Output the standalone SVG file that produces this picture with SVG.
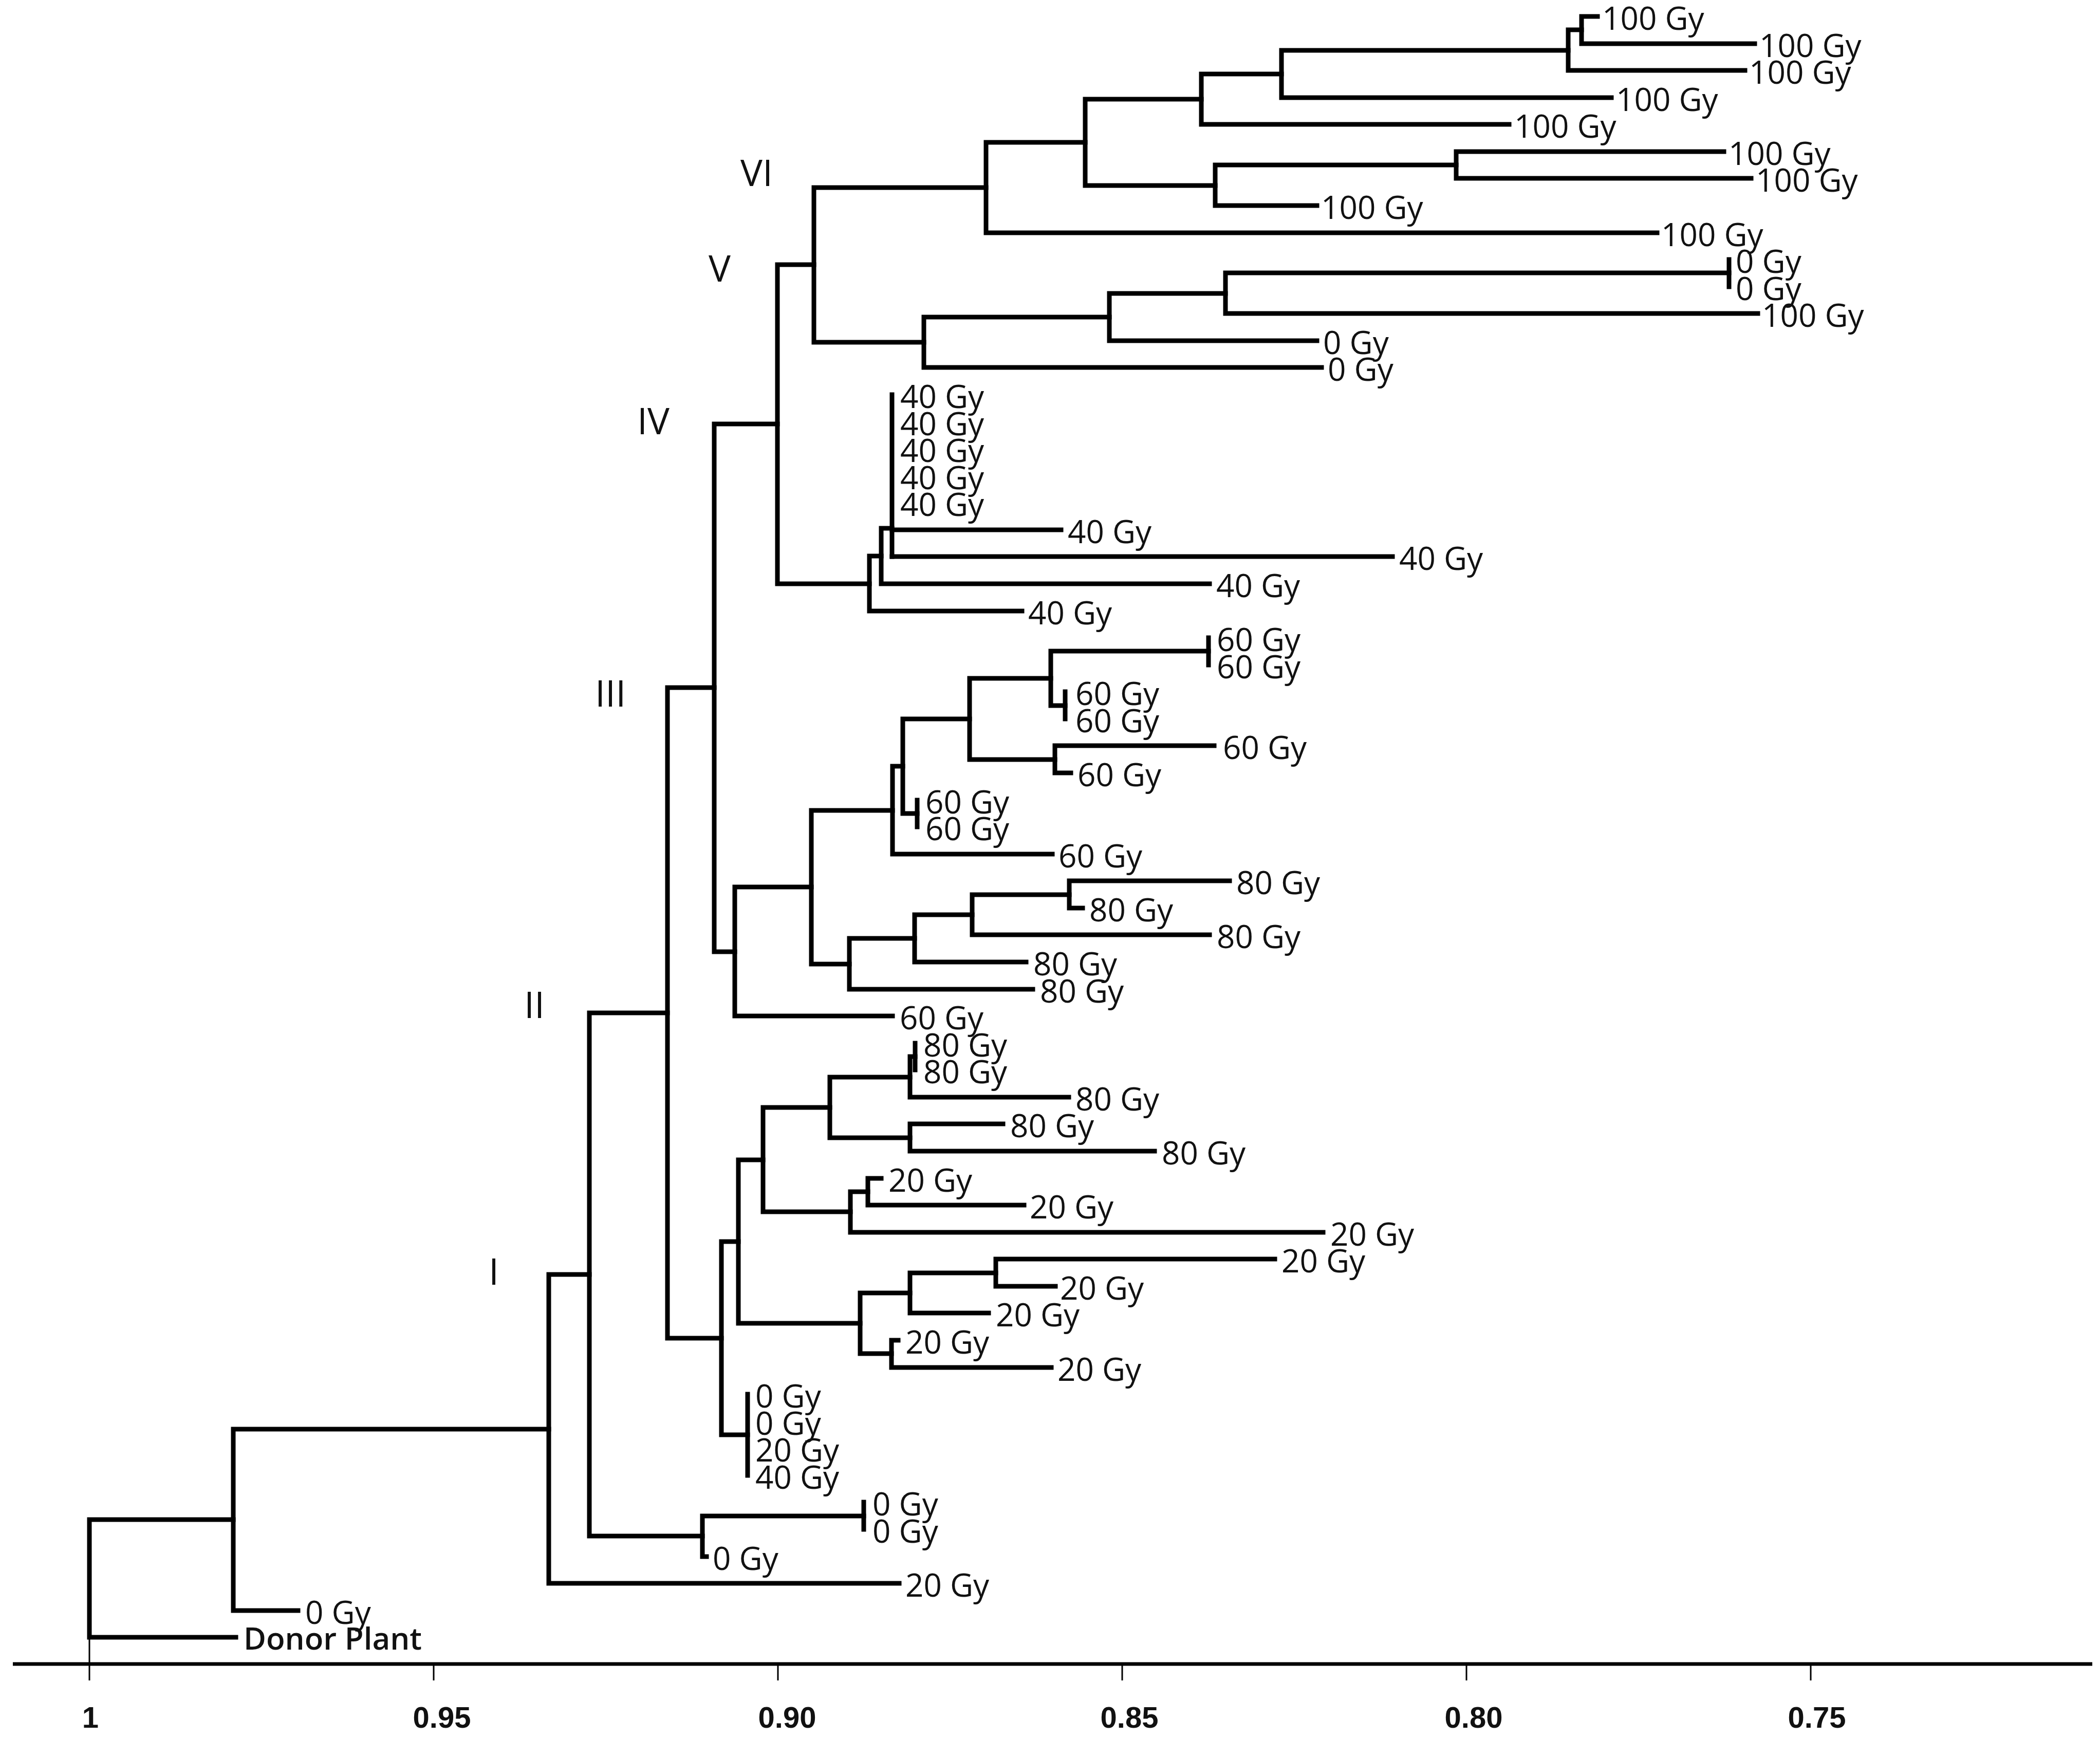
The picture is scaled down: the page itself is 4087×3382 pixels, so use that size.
<svg xmlns="http://www.w3.org/2000/svg" width="4087" height="3382" viewBox="0 0 4087 3382">
<style>
.br{fill:none;stroke:#000;stroke-width:9;stroke-linecap:square;stroke-linejoin:miter}
.lb{font-family:"Open Sans","DejaVu Sans",sans-serif;font-size:62px;fill:#111}
.dp{font-family:"Open Sans","DejaVu Sans",sans-serif;font-size:60px;font-weight:600;fill:#111}
.rn{font-family:"Open Sans","DejaVu Sans",sans-serif;font-size:72px;font-weight:400;fill:#111}
.ax{fill:none;stroke:#000;stroke-width:7}
.tk{fill:none;stroke:#000;stroke-width:3}
.tl{font-family:"Liberation Sans",Arial,sans-serif;font-size:58px;font-weight:bold;fill:#111;text-anchor:middle}
</style>
<rect width="4087" height="3382" fill="#fff"/>
<g id="connectors">
<path class="br" d="M3109 32 H3078 V85 H3415"/>
<path class="br" d="M3078 58 H3052 V137 H3396"/>
<path class="br" d="M3052 98 H2494 V190 H3136"/>
<path class="br" d="M2494 144 H2338 V242 H2937"/>
<path class="br" d="M3355 295 H2834 V347 H3408"/>
<path class="br" d="M2834 321 H2365 V400 H2563"/>
<path class="br" d="M2338 193 H2112 V361 H2365"/>
<path class="br" d="M2112 277 H1919 V453 H3225"/>
<path class="br" d="M3365 505 V558"/>
<path class="br" d="M3365 531 H2385 V610 H3421"/>
<path class="br" d="M2385 571 H2159 V663 H2563"/>
<path class="br" d="M2159 617 H1798 V715 H2572"/>
<path class="br" d="M1919 365 H1584 V666 H1798"/>
<path class="br" d="M1736 768 V1083"/>
<path class="br" d="M1736 1031 H2065"/>
<path class="br" d="M1736 1083 H2710"/>
<path class="br" d="M1736 1028 H1715 V1136 H2354"/>
<path class="br" d="M1715 1082 H1692 V1189 H1989"/>
<path class="br" d="M1584 515 H1513 V1136 H1692"/>
<path class="br" d="M2352 1241 V1294"/>
<path class="br" d="M2073 1346 V1399"/>
<path class="br" d="M2352 1267 H2045 V1373 H2073"/>
<path class="br" d="M2363 1451 H2053 V1504 H2084"/>
<path class="br" d="M2045 1320 H1887 V1478 H2053"/>
<path class="br" d="M1785 1557 V1609"/>
<path class="br" d="M1887 1399 H1757 V1583 H1785"/>
<path class="br" d="M1757 1491 H1737 V1662 H2048"/>
<path class="br" d="M2393 1714 H2081 V1767 H2107"/>
<path class="br" d="M2081 1741 H1892 V1819 H2354"/>
<path class="br" d="M1892 1780 H1780 V1872 H1997"/>
<path class="br" d="M1780 1826 H1653 V1925 H2010"/>
<path class="br" d="M1737 1577 H1579 V1876 H1653"/>
<path class="br" d="M1579 1726 H1430 V1977 H1737"/>
<path class="br" d="M1513 825 H1390 V1852 H1430"/>
<path class="br" d="M1781 2030 V2082"/>
<path class="br" d="M1781 2056 H1771 V2135 H2080"/>
<path class="br" d="M1952 2187 H1771 V2240 H2247"/>
<path class="br" d="M1771 2096 H1615 V2214 H1771"/>
<path class="br" d="M1715 2293 H1689 V2345 H1993"/>
<path class="br" d="M1689 2319 H1655 V2398 H2575"/>
<path class="br" d="M1615 2155 H1485 V2358 H1655"/>
<path class="br" d="M2481 2450 H1938 V2503 H2054"/>
<path class="br" d="M1938 2477 H1771 V2555 H1924"/>
<path class="br" d="M1748 2608 H1735 V2661 H2046"/>
<path class="br" d="M1771 2516 H1674 V2634 H1735"/>
<path class="br" d="M1485 2257 H1437 V2575 H1674"/>
<path class="br" d="M1455 2713 V2871"/>
<path class="br" d="M1437 2416 H1404 V2792 H1455"/>
<path class="br" d="M1390 1338 H1299 V2604 H1404"/>
<path class="br" d="M1681 2923 V2976"/>
<path class="br" d="M1681 2950 H1367 V3029 H1375"/>
<path class="br" d="M1299 1971 H1147 V2989 H1367"/>
<path class="br" d="M1147 2480 H1068 V3081 H1750"/>
<path class="br" d="M1068 2781 H454 V3134 H580"/>
<path class="br" d="M454 2957 H174 V3186 H459"/>
</g>
<g id="axis">
<path class="ax" d="M25 3238 H4072"/>
<path class="tk" d="M174 3189 V3270 M844 3238 V3270 M1514 3238 V3270 M2184 3238 V3270 M2854 3238 V3270 M3524 3238 V3270"/>
<text class="tl" x="176" y="3362">1</text>
<text class="tl" x="860" y="3362">0.95</text>
<text class="tl" x="1532" y="3362">0.90</text>
<text class="tl" x="2198" y="3362">0.85</text>
<text class="tl" x="2868" y="3362">0.80</text>
<text class="tl" x="3536" y="3362">0.75</text>
</g>
<g id="cluster-labels">
<g id="cl-VI"><text class="rn" x="1441" y="362">VI</text></g>
<g id="cl-V"><text class="rn" x="1379" y="548">V</text></g>
<g id="cl-IV"><text class="rn" x="1240" y="845">IV</text></g>
<g id="cl-III"><text class="rn" x="1158" y="1375">III</text></g>
<g id="cl-II"><text class="rn" x="1020" y="1981">II</text></g>
<g id="cl-I"><text class="rn" x="951" y="2500">I</text></g>
</g>
<g id="leaves">
<g id="leaf-1"><text class="lb" x="3118" y="58">100 Gy</text></g>
<g id="leaf-2"><text class="lb" x="3424" y="111">100 Gy</text></g>
<g id="leaf-3"><text class="lb" x="3404" y="163">100 Gy</text></g>
<g id="leaf-4"><text class="lb" x="3145" y="216">100 Gy</text></g>
<g id="leaf-5"><text class="lb" x="2947" y="268">100 Gy</text></g>
<g id="leaf-6"><text class="lb" x="3364" y="321">100 Gy</text></g>
<g id="leaf-7"><text class="lb" x="3417" y="373">100 Gy</text></g>
<g id="leaf-8"><text class="lb" x="2571" y="426">100 Gy</text></g>
<g id="leaf-9"><text class="lb" x="3233" y="479">100 Gy</text></g>
<g id="leaf-10"><text class="lb" x="3378" y="531">0 Gy</text></g>
<g id="leaf-11"><text class="lb" x="3378" y="584">0 Gy</text></g>
<g id="leaf-12"><text class="lb" x="3429" y="636">100 Gy</text></g>
<g id="leaf-13"><text class="lb" x="2575" y="689">0 Gy</text></g>
<g id="leaf-14"><text class="lb" x="2584" y="741">0 Gy</text></g>
<g id="leaf-15"><text class="lb" x="1752" y="794">40 Gy</text></g>
<g id="leaf-16"><text class="lb" x="1752" y="847">40 Gy</text></g>
<g id="leaf-17"><text class="lb" x="1752" y="899">40 Gy</text></g>
<g id="leaf-18"><text class="lb" x="1752" y="952">40 Gy</text></g>
<g id="leaf-19"><text class="lb" x="1752" y="1004">40 Gy</text></g>
<g id="leaf-20"><text class="lb" x="2078" y="1057">40 Gy</text></g>
<g id="leaf-21"><text class="lb" x="2723" y="1109">40 Gy</text></g>
<g id="leaf-22"><text class="lb" x="2367" y="1162">40 Gy</text></g>
<g id="leaf-23"><text class="lb" x="2001" y="1215">40 Gy</text></g>
<g id="leaf-24"><text class="lb" x="2368" y="1267">60 Gy</text></g>
<g id="leaf-25"><text class="lb" x="2368" y="1320">60 Gy</text></g>
<g id="leaf-26"><text class="lb" x="2093" y="1372">60 Gy</text></g>
<g id="leaf-27"><text class="lb" x="2093" y="1425">60 Gy</text></g>
<g id="leaf-28"><text class="lb" x="2380" y="1477">60 Gy</text></g>
<g id="leaf-29"><text class="lb" x="2097" y="1530">60 Gy</text></g>
<g id="leaf-30"><text class="lb" x="1801" y="1583">60 Gy</text></g>
<g id="leaf-31"><text class="lb" x="1801" y="1635">60 Gy</text></g>
<g id="leaf-32"><text class="lb" x="2060" y="1688">60 Gy</text></g>
<g id="leaf-33"><text class="lb" x="2406" y="1740">80 Gy</text></g>
<g id="leaf-34"><text class="lb" x="2120" y="1793">80 Gy</text></g>
<g id="leaf-35"><text class="lb" x="2368" y="1845">80 Gy</text></g>
<g id="leaf-36"><text class="lb" x="2011" y="1898">80 Gy</text></g>
<g id="leaf-37"><text class="lb" x="2024" y="1951">80 Gy</text></g>
<g id="leaf-38"><text class="lb" x="1751" y="2003">60 Gy</text></g>
<g id="leaf-39"><text class="lb" x="1797" y="2056">80 Gy</text></g>
<g id="leaf-40"><text class="lb" x="1797" y="2108">80 Gy</text></g>
<g id="leaf-41"><text class="lb" x="2093" y="2161">80 Gy</text></g>
<g id="leaf-42"><text class="lb" x="1966" y="2213">80 Gy</text></g>
<g id="leaf-43"><text class="lb" x="2261" y="2266">80 Gy</text></g>
<g id="leaf-44"><text class="lb" x="1729" y="2319">20 Gy</text></g>
<g id="leaf-45"><text class="lb" x="2004" y="2371">20 Gy</text></g>
<g id="leaf-46"><text class="lb" x="2589" y="2424">20 Gy</text></g>
<g id="leaf-47"><text class="lb" x="2494" y="2476">20 Gy</text></g>
<g id="leaf-48"><text class="lb" x="2063" y="2529">20 Gy</text></g>
<g id="leaf-49"><text class="lb" x="1938" y="2581">20 Gy</text></g>
<g id="leaf-50"><text class="lb" x="1762" y="2634">20 Gy</text></g>
<g id="leaf-51"><text class="lb" x="2058" y="2687">20 Gy</text></g>
<g id="leaf-52"><text class="lb" x="1470" y="2739">0 Gy</text></g>
<g id="leaf-53"><text class="lb" x="1470" y="2792">0 Gy</text></g>
<g id="leaf-54"><text class="lb" x="1470" y="2844">20 Gy</text></g>
<g id="leaf-55"><text class="lb" x="1470" y="2897">40 Gy</text></g>
<g id="leaf-56"><text class="lb" x="1698" y="2949">0 Gy</text></g>
<g id="leaf-57"><text class="lb" x="1698" y="3002">0 Gy</text></g>
<g id="leaf-58"><text class="lb" x="1387" y="3055">0 Gy</text></g>
<g id="leaf-59"><text class="lb" x="1762" y="3107">20 Gy</text></g>
<g id="leaf-60"><text class="lb" x="594" y="3160">0 Gy</text></g>
<g id="leaf-61"><text class="dp" x="474" y="3210">Donor Plant</text></g>
</g>
</svg>
